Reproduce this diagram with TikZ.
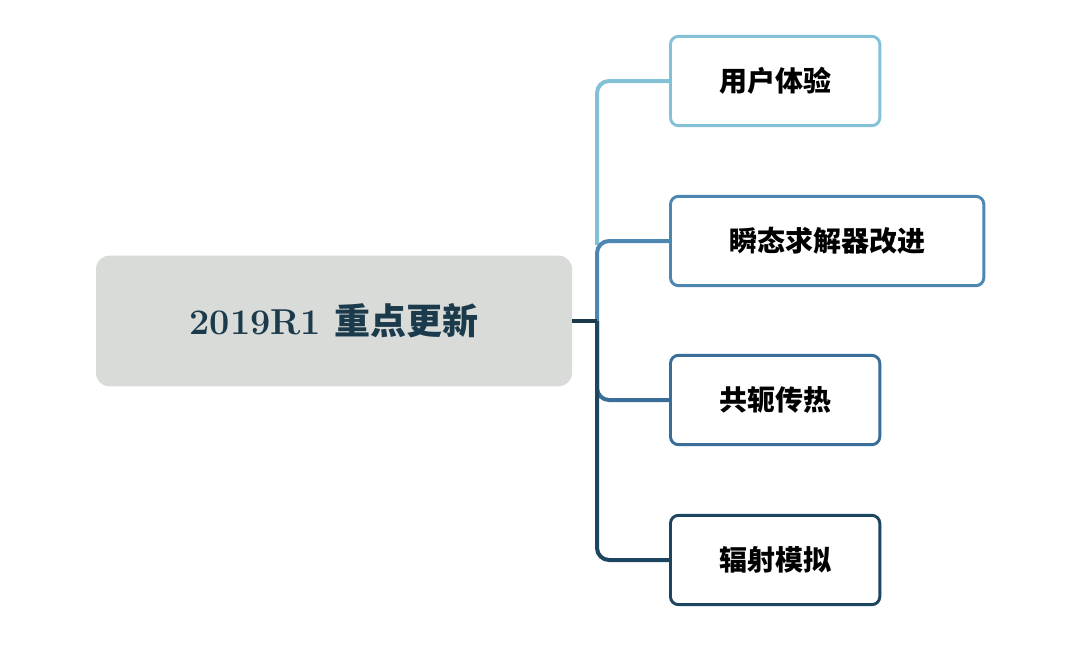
\documentclass[tikz,border=0pt]{standalone}
\usepackage{fontspec}
\newfontfamily\cjk{Noto Sans CJK SC}
\usetikzlibrary{calc}
\definecolor{rootfill}{HTML}{D8DBD7}
\definecolor{navy}{HTML}{1B3A4B}
\definecolor{cA}{HTML}{82C1D6}
\definecolor{cB}{HTML}{4B87B1}
\definecolor{cC}{HTML}{3A6D98}
\definecolor{cD}{HTML}{1E4560}
\tikzset{
  leaf/.style={draw=#1, line width=2.2pt, fill=white, rounded corners=6pt,
    minimum height=67pt, anchor=west, inner sep=0pt,
    font=\cjk\bfseries\fontsize{21}{24}\selectfont, text=black},
  branch/.style={draw=#1, line width=3pt, rounded corners=9pt}
}
\begin{document}
\begin{tikzpicture}[x=0.75pt,y=-0.75pt]
\useasboundingbox (0,0) rectangle (1080,650);

% root
\node[fill=rootfill, rounded corners=10pt, minimum width=357pt, minimum height=98pt,
  font=\bfseries\fontsize{27}{30}\selectfont, text=navy] (root) at (334,321)
  {2019R1 {\cjk 重点更新}};

% leaves
\node[leaf=cA, minimum width=157pt] (ux)   at (669,81)  {用户体验};
\node[leaf=cB, minimum width=235pt] (tran) at (669,241) {瞬态求解器改进};
\node[leaf=cC, minimum width=157pt] (cht)  at (669,400) {共轭传热};
\node[leaf=cD, minimum width=157pt] (rad)  at (669,560) {辐射模拟};

% branches
\coordinate (hub) at (597,321);
\draw[branch=cA] (597,245) -- (597,81) -- (ux.west);
\draw[branch=cB] (hub) -- (597,241) -- (tran.west);
\draw[branch=cC] (hub) -- (597,400) -- (cht.west);
\draw[branch=cD] (hub) -- (597,560) -- (rad.west);
\draw[draw=navy, line width=3pt] (root.east) -- (hub);
\end{tikzpicture}
\end{document}
